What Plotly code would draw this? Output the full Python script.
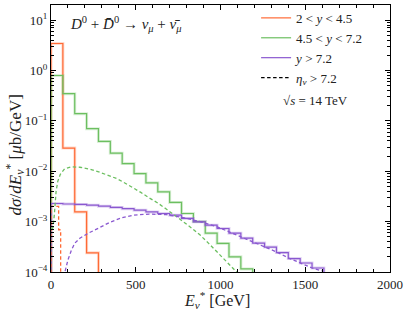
import plotly.graph_objects as go

# ---------------- data ----------------
bin_width = 70  # GeV
orange_vals = [3.43, 0.0289, 0.00156, 2.4e-4]                      # 2 < y < 4.5
green_vals = [0.796, 0.346, 0.139, 0.070, 0.039, 0.0228, 0.0142, 0.0090,
              0.0059, 0.0039, 0.0024, 0.00145, 0.0010, 5.9e-4, 3.7e-4,
              2.0e-4, 1.15e-4]                                        # 4.5 < y < 7.2
purple_vals = [2.29e-3, 2.24e-3, 2.19e-3, 2.12e-3, 2.03e-3, 1.91e-3, 1.81e-3,
               1.69e-3, 1.56e-3, 1.45e-3, 1.34e-3, 1.16e-3, 9.9e-4, 8.5e-4,
               7.3e-4, 5.9e-4, 4.7e-4, 3.75e-4, 3.13e-4, 2.43e-4, 1.85e-4,
               1.51e-4, 1.20e-4]                                      # y > 7.2

# eta_nu > 7.2 (dashed)
orange_dash_edges = [0, 45, 57]
orange_dash_vals = [2.0e-3, 6.9e-4]
green_dash_E = [0, 12, 20, 30, 40, 55, 80, 120, 170, 230, 290, 340, 390, 430,
                480, 530, 580, 630, 680, 730, 780, 830, 880, 930, 980, 1030,
                1080, 1110]
green_dash_vals = [7.1e-4, 7.6e-4, 1.41e-3, 3.98e-3, 6.3e-3, 8.7e-3, 1.12e-2,
                   1.23e-2, 1.20e-2, 1.10e-2, 9.5e-3, 8.3e-3, 7.1e-3, 6.0e-3,
                   4.8e-3, 3.8e-3, 2.95e-3, 2.34e-3, 1.78e-3, 1.35e-3, 1.0e-3,
                   7.4e-4, 5.4e-4, 3.7e-4, 2.5e-4, 1.7e-4, 1.15e-4, 8.9e-5]
purple_dash_E = [75, 82, 100, 120, 140, 170, 220, 280, 350, 420, 490, 580, 680,
                 780, 880, 980, 1050, 1120, 1190, 1260, 1330, 1400, 1470, 1540,
                 1600]
purple_dash_vals = [8.0e-5, 1.02e-4, 1.74e-4, 2.69e-4, 3.72e-4, 4.68e-4,
                    5.89e-4, 7.41e-4, 9.8e-4, 1.20e-3, 1.35e-3, 1.41e-3,
                    1.38e-3, 1.20e-3, 1.0e-3, 7.9e-4, 6.3e-4, 5.0e-4, 3.98e-4,
                    3.16e-4, 2.51e-4, 1.91e-4, 1.51e-4, 1.20e-4, 1.05e-4]

x_ticks = [0, 500, 1000, 1500, 2000]
y_ticks = [1e-4, 1e-3, 1e-2, 1e-1, 1, 10]
y_ticktext = ["10<sup>−4</sup>", "10<sup>−3</sup>", "10<sup>−2</sup>",
              "10<sup>−1</sup>", "10<sup>0</sup>", "10<sup>1</sup>"]
labels = ["2 &lt; <i>y</i> &lt; 4.5", "4.5 &lt; <i>y</i> &lt; 7.2",
          "<i>y</i> &gt; 7.2", "<i>η</i><sub><i>ν</i></sub> &gt; 7.2"]

ORANGE = "#ff6a35"
GREEN = "#6cbf60"
PURPLE = "#8a58d0"
BANDS = {ORANGE: "rgba(255,106,53,0.25)", GREEN: "rgba(108,191,96,0.25)",
         PURPLE: "rgba(138,88,208,0.25)"}
TINY = 1e-7
FONT = "Liberation Serif"
DASH = "3.5px,2.5px"


def step_xy(edges_start, vals, width=None, end=None):
    if end is None:
        end = edges_start[-1] + width
    xs = [edges_start[0]] + list(edges_start) + [end, end]
    ys = [TINY] + list(vals) + [vals[-1], TINY]
    return xs, ys


fig = go.Figure()

for i, (vals, col) in enumerate([(orange_vals, ORANGE), (green_vals, GREEN),
                                 (purple_vals, PURPLE)]):
    starts = [k * bin_width for k in range(len(vals))]
    xs, ys = step_xy(starts, vals, width=bin_width)
    fig.add_trace(go.Scatter(x=xs, y=ys, mode="lines", line_shape="hv",
                             line=dict(color=BANDS[col], width=3),
                             showlegend=False, hoverinfo="skip"))
    fig.add_trace(go.Scatter(x=xs, y=ys, mode="lines", line_shape="hv",
                             line=dict(color=col, width=1.2),
                             name=labels[i], legendgroup=f"g{i}"))

# dashed
xs, ys = step_xy(orange_dash_edges[:-1], orange_dash_vals, end=orange_dash_edges[-1])
fig.add_trace(go.Scatter(x=xs, y=ys, mode="lines", line_shape="hv",
                         line=dict(color=ORANGE, width=1.3, dash=DASH),
                         showlegend=False))
fig.add_trace(go.Scatter(x=green_dash_E, y=green_dash_vals, mode="lines",
                         line=dict(color=GREEN, width=1.3, dash=DASH),
                         showlegend=False))
fig.add_trace(go.Scatter(x=purple_dash_E, y=purple_dash_vals, mode="lines",
                         line=dict(color=PURPLE, width=1.3, dash=DASH),
                         showlegend=False))
fig.add_trace(go.Scatter(x=[None], y=[None], mode="lines",
                         line=dict(color="black", width=1.3, dash=DASH),
                         name=labels[3], legendgroup="g3"))

axis_common = dict(showline=True, linecolor="black", linewidth=1.1, mirror="ticks",
                   ticks="inside", ticklen=5, tickwidth=1, tickcolor="black",
                   showgrid=False, zeroline=False, automargin=False,
                   tickfont=dict(family=FONT, size=13, color="#222"))

fig.update_xaxes(range=[0, 2000], tickvals=x_ticks,
                 minor=dict(dtick=100, ticks="inside", ticklen=3, tickcolor="black"),
                 **axis_common)
fig.update_yaxes(type="log", range=[-4, 1.3], tickvals=y_ticks, ticktext=y_ticktext,
                 minor=dict(dtick="D1", ticks="inside", ticklen=3, tickcolor="black"),
                 **axis_common)

fig.update_layout(
    width=407, height=311,
    margin=dict(l=51, r=17, t=4, b=39),
    paper_bgcolor="white", plot_bgcolor="white",
    font=dict(family=FONT, color="#222"),
    legend=dict(x=0.605, y=1.004, xanchor="left", yanchor="top",
                bgcolor="rgba(0,0,0,0)", font=dict(family=FONT, size=13),
                tracegroupgap=0, itemwidth=30),
    annotations=[
        dict(text="<i>D</i><sup>0</sup> + <i>D̄</i><sup>0</sup> → <i>ν</i><sub><i>μ</i></sub> + <i>ν̄</i><sub><i>μ</i></sub>",
             xref="paper", yref="paper", x=0.05, y=0.929, xanchor="left", yanchor="middle",
             showarrow=False, font=dict(family=FONT, size=15)),
        dict(text="√<i>s</i> = 14 TeV", xref="paper", yref="paper",
             x=0.678, y=0.642, xanchor="left", yanchor="middle",
             showarrow=False, font=dict(family=FONT, size=13)),
        dict(text="<i>E</i><sub><i>ν</i></sub><sup>*</sup> [GeV]", xref="paper", yref="paper",
             x=0.49, y=-0.106, xanchor="center", yanchor="middle",
             showarrow=False, font=dict(family=FONT, size=16)),
        dict(text="<i>dσ</i>/<i>dE</i><sub><i>ν</i></sub><sup>*</sup> [<i>μ</i>b/GeV]",
             xref="paper", yref="paper", x=-0.106, y=0.437, xanchor="center",
             yanchor="middle", textangle=-90,
             showarrow=False, font=dict(family=FONT, size=17)),
    ],
)

fig.write_html("out.html", config={"displayModeBar": False},
               post_script="document.body.style.margin='0';document.body.style.overflow='hidden';")
